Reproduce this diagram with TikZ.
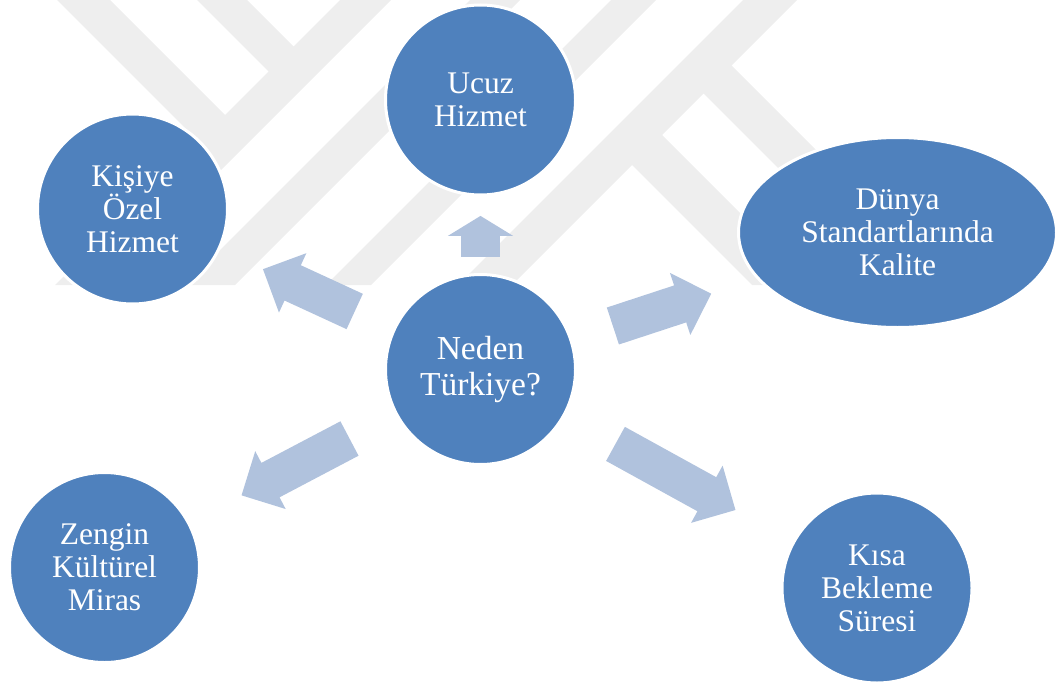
\documentclass[tikz,border=0pt]{standalone}
\usepackage{fontspec}
\setmainfont{Liberation Serif}
\usetikzlibrary{shapes.geometric, shapes.arrows, calc}

\definecolor{reasonblue}{RGB}{79,129,189}
\definecolor{arrowblue}{RGB}{176,194,221}
\definecolor{markgray}{RGB}{238,238,238}

\tikzset{
  reason/.style={circle, minimum size=190pt, inner sep=0pt, fill=reasonblue, draw=white, line width=3pt, text=white, align=center, font=\fontsize{31.5}{33}\selectfont},
  widereason/.style={reason, ellipse, minimum width=318pt, minimum height=190pt},
  hub/.style={reason, font=\fontsize{33.5}{36}\selectfont},
  blockarrow/.style={single arrow, single arrow head extend=13.25pt, inner xsep=0pt, inner ysep=19.25pt, fill=arrowblue, draw=none, sloped, allow upside down, anchor=tail},
  band/.style={fill=markgray, draw=none}
}

\begin{document}
\begin{tikzpicture}[x=1pt, y=-1pt]

  \useasboundingbox (0,0) rectangle (1056,682);

  % background mark
  \begin{scope}
    \clip (0,0) rectangle (1056,285);
    \foreach \a/\b in {340/391, 470/520, 611/656, 743/797}
      \fill[band] (\a,0) -- (\b,0) -- (\b-285,285) -- (\a-285,285) -- cycle;
    \fill[band] (57,0) -- (110,0) -- (230,120) -- (203.5,146.5) -- cycle;
    \fill[band] (197,0) -- (247,0) -- (298.5,51.5) -- (273.5,76.5) -- cycle;
    \fill[band] (626,159) -- (656,129) -- (812,285) -- (752,285) -- cycle;
    \fill[band] (697.5,87.5) -- (725.5,59.5) -- (951,285) -- (895,285) -- cycle;
  \end{scope}

  \node (neden) [hub] at (480.5,369.5) {Neden\\Türkiye?};
  \node (ucuz) [reason] at (480.5,100) {Ucuz\\Hizmet};
  \node (kisiye) [reason] at (132.5,209) {Kişiye\\Özel\\Hizmet};
  \node (dunya) [widereason] at (897.5,232.5) {Dünya\\Standartlarında\\Kalite};
  \node (zengin) [reason] at (104.5,567.5) {Zengin\\Kültürel\\Miras};
  \node (kisa) [reason] at (877,588) {Kısa\\Bekleme\\Süresi};

  \path (neden.center) -- node[blockarrow, pos=.417, minimum height=41pt, single arrow tip angle=117] (toUcuz) {} (ucuz.center);
  \path (neden.center) -- node[blockarrow, pos=.361, minimum height=101pt] (toKisiye) {} (kisiye.center);
  \path (neden.center) -- node[blockarrow, pos=.317, minimum height=103.5pt] (toDunya) {} (dunya.center);
  \path (neden.center) -- node[blockarrow, pos=.348, minimum height=122pt] (toZengin) {} (zengin.center);
  \path (neden.center) -- node[blockarrow, pos=.340, minimum height=137pt] (toKisa) {} (kisa.center);

\end{tikzpicture}
\end{document}
